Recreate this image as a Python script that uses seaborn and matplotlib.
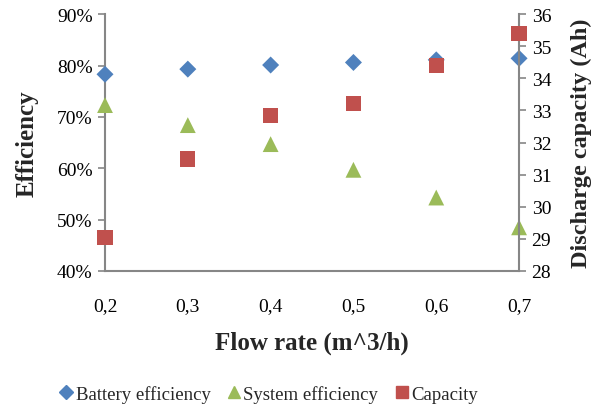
import matplotlib
matplotlib.use("Agg")
import matplotlib.pyplot as plt
import seaborn as sns
import pandas as pd
from matplotlib.ticker import PercentFormatter
from matplotlib.lines import Line2D

flow_rate = [0.2, 0.3, 0.4, 0.5, 0.6, 0.7]
x_tick_labels = ["0,2", "0,3", "0,4", "0,5", "0,6", "0,7"]
battery_eff = [0.783, 0.793, 0.801, 0.806, 0.811, 0.814]
system_eff = [0.723, 0.684, 0.647, 0.597, 0.543, 0.485]
capacity = [29.05, 31.49, 32.84, 33.22, 34.40, 35.40]

c_bat = "#4F81BD"
c_sys = "#9BBB59"
c_cap = "#C0504D"
axis_col = "#868686"

sns.set_theme(style="white")
plt.rcParams["font.family"] = ["Liberation Serif", "DejaVu Serif"]

df = pd.DataFrame({"flow": flow_rate, "bat": battery_eff, "sys": system_eff, "cap": capacity})

fig = plt.figure(figsize=(5.98, 4.10), dpi=100)
ax = fig.add_axes([0.1756, 0.3366, 0.868 - 0.1756, 0.963 - 0.3366])
ax2 = ax.twinx()

sns.scatterplot(data=df, x="flow", y="bat", ax=ax, marker="D", s=75, color=c_bat, edgecolor="none", zorder=3, clip_on=False)
sns.scatterplot(data=df, x="flow", y="sys", ax=ax, marker="^", s=130, color=c_sys, edgecolor="none", zorder=3, clip_on=False)
sns.scatterplot(data=df, x="flow", y="cap", ax=ax2, marker="s", s=120, color=c_cap, edgecolor="none", zorder=3, clip_on=False)

ax.set_xlim(0.2, 0.7)
ax.set_ylim(0.4, 0.9)
ax2.set_ylim(28, 36)
ax.set_xticks(flow_rate)
ax.set_xticklabels(x_tick_labels)
ax.set_yticks([0.4, 0.5, 0.6, 0.7, 0.8, 0.9])
ax.yaxis.set_major_formatter(PercentFormatter(1.0, decimals=0))
ax2.set_yticks(list(range(28, 37)))

for a in (ax, ax2):
    for s in a.spines.values():
        s.set_visible(False)
    a.tick_params(colors=axis_col, labelcolor="black", labelsize=14, length=5, width=1.2, direction="out")
    a.grid(False)
    a.set_facecolor("none")
ax.spines["left"].set_visible(True)
ax.spines["bottom"].set_visible(True)
ax2.spines["right"].set_visible(True)
for s in (ax.spines["left"], ax.spines["bottom"], ax2.spines["right"]):
    s.set_color(axis_col)
    s.set_linewidth(1.5)
ax.tick_params(axis="x", pad=14)
ax.tick_params(axis="y", pad=4)
ax2.tick_params(axis="y", pad=4)

ax.set_xlabel("Flow rate (m^3/h)", fontsize=18, fontweight="bold", labelpad=12)
ax.set_ylabel("Efficiency", fontsize=18, fontweight="bold", labelpad=13)
ax2.set_ylabel("Discharge capacity (Ah)", fontsize=17.5, fontweight="bold", labelpad=14)

handles = [
    Line2D([], [], marker="D", color=c_bat, linestyle="none", markersize=7),
    Line2D([], [], marker="^", color=c_sys, linestyle="none", markersize=9),
    Line2D([], [], marker="s", color=c_cap, linestyle="none", markersize=8),
]
fig.legend(handles, ["Battery efficiency", "System efficiency", "Capacity"],
           loc="center", bbox_to_anchor=(0.448, 0.037), ncol=3, frameon=False,
           fontsize=13.5, handletextpad=0.05, columnspacing=0.8, handlelength=0.9)

fig.savefig("out.png", dpi=100)
